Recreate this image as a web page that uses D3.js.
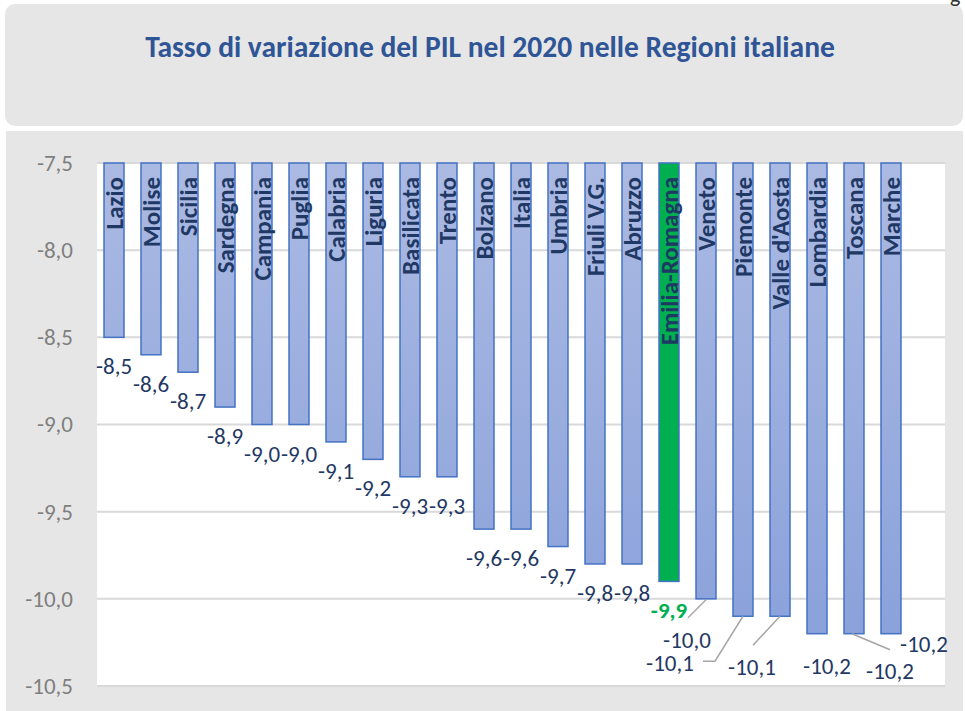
<!DOCTYPE html>
<html>
<head>
<meta charset="utf-8">
<script src="https://cdn.jsdelivr.net/npm/d3@7"></script>
<style>
    body { margin: 0; background: #fff; }
    svg { display: block; font-family: Carlito, Lato, "Noto Sans", sans-serif; }
</style>
</head>
<body>
<div class="chart"></div>
<script>

// data
const regions = ["Lazio", "Molise", "Sicilia", "Sardegna", "Campania", "Puglia", "Calabria", "Liguria",
    "Basilicata", "Trento", "Bolzano", "Italia", "Umbria", "Friuli V.G.", "Abruzzo", "Emilia-Romagna",
    "Veneto", "Piemonte", "Valle d'Aosta", "Lombardia", "Toscana", "Marche"];
const values = [-8.5, -8.6, -8.7, -8.9, -9.0, -9.0, -9.1, -9.2, -9.3, -9.3, -9.6, -9.6, -9.7, -9.8, -9.8,
    -9.9, -10.0, -10.1, -10.1, -10.2, -10.2, -10.2];
const yTicks = [-7.5, -8.0, -8.5, -9.0, -9.5, -10.0, -10.5];
const highlighted = "Emilia-Romagna";
const chartTitle = "Tasso di variazione del PIL nel 2020 nelle Regioni italiane";

// labels that were dragged away from their bar (offsets from the bar end), with leader lines
const labelMoves = {
    "Veneto": {dx: -19, dy: 41, leader: [[0, 1], [-18, 19]]},
    "Piemonte": {dx: -73, dy: 47, leader: [[0, 0], [-28, 45], [-40, 45]]},
    "Valle d'Aosta": {dx: -28, dy: 51, leader: [[0, 0], [-27, 29]]},
    "Lombardia": {dx: 10, dy: 32},
    "Toscana": {dx: 36, dy: 37, leader: [[-2, 0], [36, 16]]},
    "Marche": {dx: 33, dy: 10}
};

const data = regions.map((r, i) => ({region: r, value: values[i]}));

const W = 965, H = 711;
const it = d3.formatLocale({decimal: ",", thousands: ".", grouping: [3], currency: ["", "€"], minus: "-"});
const fmt = it.format(".1f");

const svg = d3.select(".chart").append("svg")
    .attr("width", W)
    .attr("height", H);

// gradient for the ordinary bars
const grad = svg.append("defs").append("linearGradient")
    .attr("id", "barFill")
    .attr("gradientUnits", "userSpaceOnUse")
    .attr("x1", 0).attr("y1", 163).attr("x2", 0).attr("y2", 640);
grad.append("stop").attr("offset", "0%").attr("stop-color", "#abbae3");
grad.append("stop").attr("offset", "100%").attr("stop-color", "#8aa1da");

// title panel
svg.append("rect")
    .attr("x", 5).attr("y", 4).attr("width", 958).attr("height", 122)
    .attr("rx", 10)
    .attr("fill", "#e6e6e6");

svg.append("text")
    .attr("x", 490).attr("y", 57)
    .attr("text-anchor", "middle")
    .style("font-size", "29.5px")
    .style("font-weight", "bold")
    .style("fill", "#2f5597")
    .text(chartTitle);

// cut-off letter in the top right corner
svg.append("text")
    .attr("x", 950).attr("y", 2)
    .style("font-size", "22px")
    .style("fill", "#333")
    .text("g");

// chart panel
svg.append("rect")
    .attr("x", 6).attr("y", 131).attr("width", 957).attr("height", 585)
    .attr("fill", "#e6e6e6");

// scales
const y = d3.scaleLinear()
    .domain([-7.5, -10.5])
    .range([163, 686]);

const x = d3.scaleBand()
    .domain(regions)
    .range([95.5, 909.5])
    .paddingInner(0.46)
    .paddingOuter(0.23);

// plot area
svg.append("rect")
    .attr("x", 97).attr("y", y(-7.5))
    .attr("width", 848).attr("height", y(-10.5) - y(-7.5) + 1)
    .attr("fill", "#fff");

// gridlines
svg.append("g")
    .selectAll("line")
    .data(yTicks)
    .enter()
    .append("line")
    .attr("x1", 97).attr("x2", 945)
    .attr("y1", d => y(d)).attr("y2", d => y(d))
    .attr("stroke", "#d9d9d9")
    .attr("stroke-width", 2);

// y axis labels
const yAxis = svg.append("g")
    .attr("transform", "translate(73,0)")
    .call(d3.axisLeft(y).tickValues(yTicks).tickFormat(fmt).tickSize(0).tickPadding(0));
yAxis.select(".domain").remove();
yAxis.selectAll("text")
    .style("font-family", "Carlito, Lato, 'Noto Sans', sans-serif")
    .style("font-size", "23px")
    .style("fill", "#7f7f7f");

// bars hang from the top of the axis
svg.append("g")
    .selectAll("rect")
    .data(data)
    .enter()
    .append("rect")
    .attr("x", d => x(d.region))
    .attr("y", y(-7.5))
    .attr("width", x.bandwidth())
    .attr("height", d => y(d.value) - y(-7.5))
    .attr("fill", d => d.region == highlighted ? "#00b050" : "url(#barFill)")
    .attr("stroke", "#4472c4")
    .attr("stroke-width", 1.5);

// region names inside the bars
svg.append("g")
    .selectAll("text")
    .data(data)
    .enter()
    .append("text")
    .attr("transform", d => `translate(${x(d.region) + x.bandwidth() / 2 + 9}, 177) rotate(-90)`)
    .attr("text-anchor", "end")
    .style("font-size", "25px")
    .style("font-weight", "bold")
    .style("fill", "#1f3864")
    .text(d => d.region);

// leader lines
svg.append("g")
    .selectAll("path")
    .data(data.filter(d => labelMoves[d.region] && labelMoves[d.region].leader))
    .enter()
    .append("path")
    .attr("d", d => {
        let cx = x(d.region) + x.bandwidth() / 2, cy = y(d.value);
        return d3.line()(labelMoves[d.region].leader.map(p => [cx + p[0], cy + p[1]]));
    })
    .attr("fill", "none")
    .attr("stroke", "#a6a6a6")
    .attr("stroke-width", 1.5);

// value labels
svg.append("g")
    .selectAll("text")
    .data(data)
    .enter()
    .append("text")
    .attr("x", d => x(d.region) + x.bandwidth() / 2 + (labelMoves[d.region] ? labelMoves[d.region].dx : 0))
    .attr("y", d => y(d.value) + (labelMoves[d.region] ? labelMoves[d.region].dy : 29) + 8)
    .attr("text-anchor", "middle")
    .style("font-size", "23px")
    .style("font-weight", d => d.region == highlighted ? "bold" : "normal")
    .style("fill", d => d.region == highlighted ? "#00b050" : "#1f3864")
    .text(d => fmt(d.value));

</script>
</body>
</html>
